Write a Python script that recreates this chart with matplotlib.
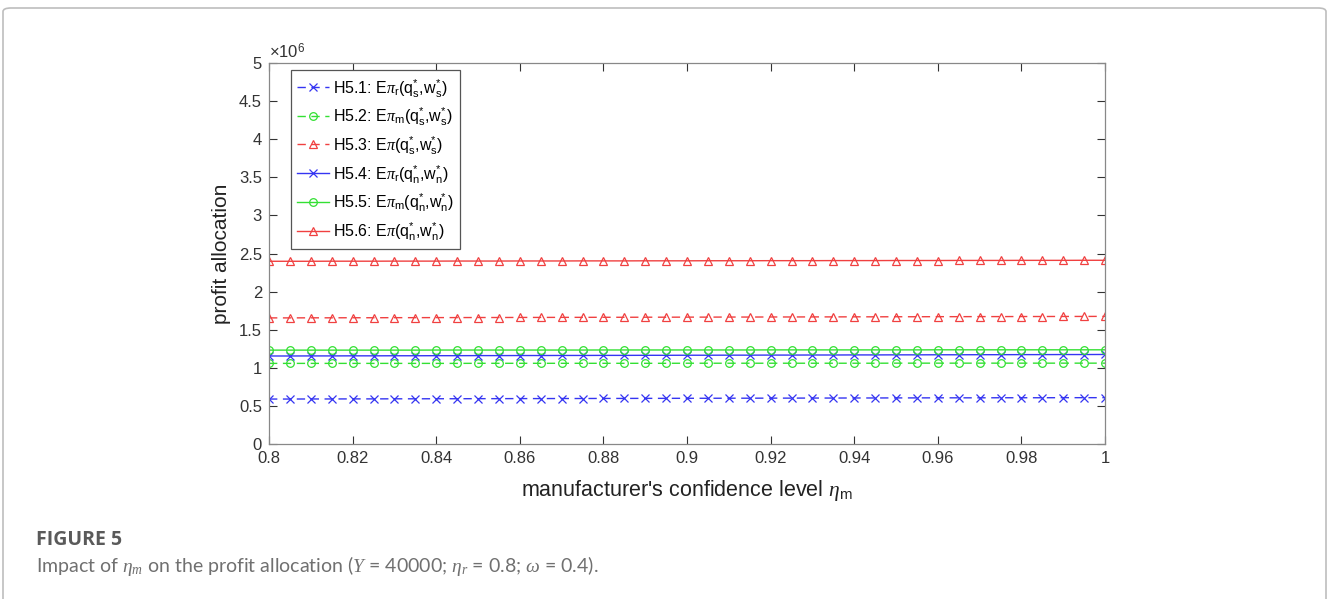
import numpy as np
import matplotlib
matplotlib.use("Agg")
import matplotlib.pyplot as plt
from matplotlib.patches import FancyBboxPatch

plt.rcParams['font.family'] = ['Liberation Sans', 'DejaVu Sans']
plt.rcParams['mathtext.fontset'] = 'custom'
plt.rcParams['mathtext.rm'] = 'Liberation Sans'
plt.rcParams['mathtext.it'] = 'Liberation Serif:italic'

# manufacturer's confidence level eta_m
eta_m = np.linspace(0.8, 1.0, 41)

# profit values, in units of 1e6
h51 = [0.590, 0.590, 0.591, 0.591, 0.592, 0.592, 0.593, 0.593, 0.594, 0.594,
       0.595, 0.595, 0.596, 0.596, 0.597, 0.597, 0.598, 0.598, 0.599, 0.599,
       0.600, 0.600, 0.601, 0.601, 0.602, 0.602, 0.603, 0.603, 0.604, 0.604,
       0.605, 0.605, 0.606, 0.606, 0.606, 0.607, 0.607, 0.607, 0.608, 0.608,
       0.608]
h52 = [1.058, 1.058, 1.058, 1.058, 1.058, 1.058, 1.058, 1.058, 1.058, 1.058,
       1.059, 1.059, 1.059, 1.059, 1.059, 1.059, 1.059, 1.059, 1.059, 1.059,
       1.060, 1.060, 1.060, 1.060, 1.060, 1.060, 1.060, 1.060, 1.060, 1.060,
       1.061, 1.061, 1.061, 1.061, 1.061, 1.061, 1.061, 1.061, 1.061, 1.061,
       1.061]
h53 = [1.655, 1.655, 1.656, 1.656, 1.657, 1.657, 1.658, 1.658, 1.659, 1.659,
       1.660, 1.660, 1.661, 1.661, 1.662, 1.662, 1.663, 1.663, 1.664, 1.664,
       1.665, 1.665, 1.666, 1.666, 1.667, 1.667, 1.668, 1.668, 1.669, 1.669,
       1.670, 1.670, 1.671, 1.671, 1.672, 1.672, 1.673, 1.673, 1.674, 1.674,
       1.675]
h54 = [1.155, 1.155, 1.156, 1.156, 1.157, 1.157, 1.158, 1.158, 1.159, 1.159,
       1.160, 1.160, 1.161, 1.161, 1.162, 1.162, 1.163, 1.163, 1.164, 1.164,
       1.165, 1.165, 1.166, 1.166, 1.167, 1.167, 1.168, 1.168, 1.169, 1.169,
       1.170, 1.170, 1.171, 1.171, 1.172, 1.172, 1.173, 1.173, 1.174, 1.174,
       1.175]
h55 = [1.232, 1.232, 1.232, 1.232, 1.232, 1.232, 1.232, 1.232, 1.233, 1.233,
       1.233, 1.233, 1.233, 1.233, 1.233, 1.233, 1.234, 1.234, 1.234, 1.234,
       1.234, 1.234, 1.234, 1.234, 1.235, 1.235, 1.235, 1.235, 1.235, 1.235,
       1.235, 1.235, 1.236, 1.236, 1.236, 1.236, 1.236, 1.236, 1.236, 1.236,
       1.236]
h56 = [2.398, 2.398, 2.398, 2.399, 2.399, 2.399, 2.400, 2.400, 2.400, 2.401,
       2.401, 2.401, 2.402, 2.402, 2.402, 2.403, 2.403, 2.403, 2.404, 2.404,
       2.404, 2.405, 2.405, 2.405, 2.406, 2.406, 2.406, 2.407, 2.407, 2.407,
       2.408, 2.408, 2.408, 2.409, 2.409, 2.409, 2.410, 2.410, 2.410, 2.411,
       2.411]

labels = [r"H5.1: E$\pi_{\rm r}$(q$_{\rm s}^{*}$,w$_{\rm s}^{*}$)",
          r"H5.2: E$\pi_{\rm m}$(q$_{\rm s}^{*}$,w$_{\rm s}^{*}$)",
          r"H5.3: E$\pi$(q$_{\rm s}^{*}$,w$_{\rm s}^{*}$)",
          r"H5.4: E$\pi_{\rm r}$(q$_{\rm n}^{*}$,w$_{\rm n}^{*}$)",
          r"H5.5: E$\pi_{\rm m}$(q$_{\rm n}^{*}$,w$_{\rm n}^{*}$)",
          r"H5.6: E$\pi$(q$_{\rm n}^{*}$,w$_{\rm n}^{*}$)"]

xticks = [0.8, 0.82, 0.84, 0.86, 0.88, 0.9, 0.92, 0.94, 0.96, 0.98, 1]
xtick_labels = ['0.8', '0.82', '0.84', '0.86', '0.88', '0.9', '0.92', '0.94', '0.96', '0.98', '1']
yticks = [0, 0.5, 1, 1.5, 2, 2.5, 3, 3.5, 4, 4.5, 5]
ytick_labels = ['0', '0.5', '1', '1.5', '2', '2.5', '3', '3.5', '4', '4.5', '5']

blue = '#3535f2'
green = '#33e033'
red = '#f04040'

fig = plt.figure(figsize=(13.27, 5.99), dpi=100)
fig.patch.set_facecolor('white')

# outer frame
frame = FancyBboxPatch((3 / 1327, -0.05), (1326 - 3) / 1327, 1 - 8 / 599 + 0.05,
                       boxstyle="round,pad=0,rounding_size=0.006",
                       transform=fig.transFigure, facecolor='none',
                       edgecolor='#bdbdbd', linewidth=1.2)
fig.patches.append(frame)

ax = fig.add_axes([269 / 1327, 1 - 444 / 599, (1105 - 269) / 1327, (444 - 63) / 599])

series = [h51, h52, h53, h54, h55, h56]
colors = [blue, green, red, blue, green, red]
markers = ['x', 'o', '^', 'x', 'o', '^']
styles = ['--', '--', '--', '-', '-', '-']
for vals, c, m, ls, lab in zip(series, colors, markers, styles, labels):
    y = np.array(vals) * 1e6
    ax.plot(eta_m, y, color=c, marker=m, linestyle=ls, linewidth=1.0,
            markersize=5.5, markerfacecolor='none', markeredgewidth=0.9,
            dashes=(6, 4) if ls == '--' else (None, None), label=lab)

ax.set_xlim(0.8, 1.0)
ax.set_ylim(0, 5e6)
ax.set_xticks(xticks)
ax.set_xticklabels(xtick_labels)
ax.set_yticks([v * 1e6 for v in yticks])
ax.set_yticklabels(ytick_labels)
ax.tick_params(direction='in', top=True, right=True, length=6, width=0.8,
               labelsize=12, colors='#333333', pad=5)
for s in ax.spines.values():
    s.set_color('#888888')
    s.set_linewidth(0.9)

ax.text(0.0, 1.003, r'$\times$10$^{6}$', transform=ax.transAxes, fontsize=12,
        color='#333333', ha='left', va='bottom')

ax.set_xlabel(r"manufacturer's confidence level $\it{\eta}_{\rm m}$", fontsize=15.5,
              color='#222222', labelpad=9)
ax.set_ylabel('profit allocation', fontsize=15, color='#222222', labelpad=6)

leg = ax.legend(loc='upper left', bbox_to_anchor=(0.0263, 0.981), fontsize=11.5,
                handlelength=2.0, handletextpad=0.2, labelspacing=0.42,
                borderpad=0.4, borderaxespad=0, fancybox=False, framealpha=1)
leg.get_frame().set_edgecolor('#555555')
leg.get_frame().set_linewidth(0.9)

fig.text(36 / 1327, 1 - 540 / 599, 'FIGURE 5', fontsize=14, fontweight='bold',
         color='#5a5a5a', family=['Open Sans', 'DejaVu Sans'], va='center')
fig.text(36 / 1327, 1 - 566 / 599,
         r'Impact of $\it{\eta}_{m}$ on the profit allocation ($\it{Y}$ = 40000; '
         r'$\it{\eta}_{r}$ = 0.8; $\it{\omega}$ = 0.4).',
         fontsize=14, color='#707070', family=['Lato', 'DejaVu Sans'], va='center')

fig.savefig('out.png', dpi=100)
